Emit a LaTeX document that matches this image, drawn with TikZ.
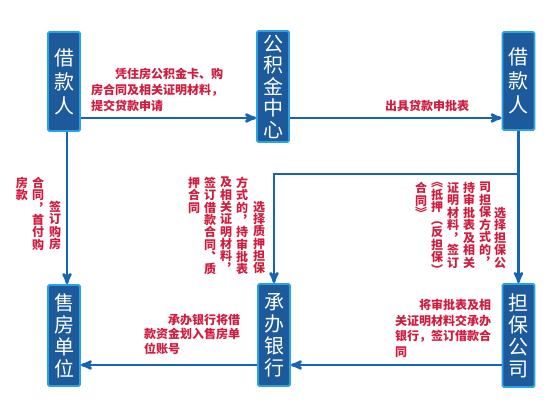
\documentclass[tikz,border=0pt]{standalone}
\usepackage{fontspec}
\usepackage{tikz}
\usetikzlibrary{arrows, positioning, calc}
\newfontfamily\cjk{Noto Sans CJK SC}
\definecolor{boxfill}{RGB}{28,90,155}
\definecolor{boxline}{RGB}{44,162,222}
\definecolor{linkblue}{RGB}{22,100,178}
\definecolor{labelred}{RGB}{208,28,62}
\tikzset{
         partybox/.style={draw=boxline, fill=boxfill, line width=1.8pt, rounded corners=1.5pt,
                          minimum width=32pt, inner sep=0pt, align=center, text=white,
                          font=\cjk\fontsize{20}{22}\selectfont},
         lbl/.style={inner sep=0pt, align=left, text=labelred, font=\cjk\bfseries\fontsize{12}{16}\selectfont},
         vcol/.style={lbl, align=center, anchor=north, font=\cjk\bfseries\fontsize{12}{12.3}\selectfont},
         link/.style={draw=linkblue, line width=2.6pt}
      }

\begin{document}
\begin{tikzpicture}[x=1pt,y=1pt,->,>=stealth']
  \useasboundingbox (0,0) rectangle (560,416);

  % the six parties
  \node[partybox, minimum height=99pt, font=\cjk\fontsize{20}{24}\selectfont] (loanA) at (64,334.5) {借\\款\\人};
  \node[partybox, minimum height=111pt, font=\cjk\fontsize{20}{21.5}\selectfont] (fund) at (273,329.5) {公\\积\\金\\中\\心};
  \node[partybox, minimum height=98pt, font=\cjk\fontsize{20}{24}\selectfont] (loanB) at (518.5,335) {借\\款\\人};
  \node[partybox, minimum height=101pt] (seller) at (64,80.5) {售\\房\\单\\位};
  \node[partybox, minimum height=102pt] (bank) at (274,81) {承\\办\\银\\行};
  \node[partybox, minimum height=103pt] (guar) at (518.5,80.5) {担\\保\\公\\司};

  \coordinate (row1) at (0,298);
  \coordinate (row2) at (0,51);
  \coordinate (fork) at (loanB.south |- 0,242);

  % connectors
  \draw[link] (loanA.east |- row1) -- (fund.west |- row1);
  \draw[link] (fund.east |- row1) -- (loanB.west |- row1);
  \draw[link] ([xshift=3pt]loanA.south) -- ([xshift=3pt]seller.north);
  \draw[link] (loanB.south) -- (guar.north);
  \draw[link] (fork) -- (bank.north |- fork) -- (bank.north);
  \draw[link] (guar.west |- row2) -- (bank.east |- row2);
  \draw[link] (bank.west |- row2) -- (seller.east |- row2);

  % horizontal labels
  \node[lbl, anchor=west] (apply) at (91,326.5) {\hspace*{2em}凭住房公积金卡、购\\房合同及相关证明材料，\\提交贷款申请};
  \node[lbl] (approve) at (427,310) {出具贷款申批表};
  \node[lbl, anchor=west, font=\cjk\bfseries\fontsize{12}{14.5}\selectfont] (transfer) at (144,82) {\hspace*{2em}承办银行将借\\款资金划入售房单\\位账号};
  \node[lbl, anchor=west, font=\cjk\bfseries\fontsize{12}{15.5}\selectfont] (submit) at (395,87.5) {\hspace*{2em}将审批表及相\\关证明材料交承办\\银行，签订借款合\\同};

  % vertical labels, columns from right to left
  \node[vcol] (buyA) at (55,215) {签\\订\\购\\房};
  \node[vcol] (buyB) at (38,239) {合\\同\\︐\\首\\付\\购};
  \node[vcol] (buyC) at (22,239) {房\\款};

  \node[vcol] (pledgeA) at (259,215) {选\\择\\质\\押\\担\\保};
  \node[vcol] (pledgeB) at (242,239) {方\\式\\的\\︐\\持\\审\\批\\表};
  \node[vcol] (pledgeC) at (226,239) {及\\相\\关\\证\\明\\材\\料\\︐};
  \node[vcol] (pledgeD) at (210,239) {签\\订\\借\\款\\合\\同\\︑\\质};
  \node[vcol] (pledgeE) at (194,239) {押\\合\\同};

  \node[vcol, font=\cjk\bfseries\fontsize{12}{12.5}\selectfont] (guarA) at (500,209) {选\\择\\担\\保\\公};
  \node[vcol, font=\cjk\bfseries\fontsize{12}{12.5}\selectfont] (guarB) at (485,234) {司\\担\\保\\方\\式\\的\\︐};
  \node[vcol, font=\cjk\bfseries\fontsize{12}{12.5}\selectfont] (guarC) at (469,234) {持\\审\\批\\表\\及\\相\\关};
  \node[vcol, font=\cjk\bfseries\fontsize{12}{12.5}\selectfont] (guarD) at (453,234) {证\\明\\材\\料\\︐\\签\\订};
  \node[vcol, font=\cjk\bfseries\fontsize{12}{12.5}\selectfont] (guarE) at (437,234) {︽\\抵\\押\\︵\\反\\担\\保\\︶};
  \node[vcol, font=\cjk\bfseries\fontsize{12}{12.5}\selectfont] (guarF) at (421,234) {合\\同\\︾};
\end{tikzpicture}
\end{document}
